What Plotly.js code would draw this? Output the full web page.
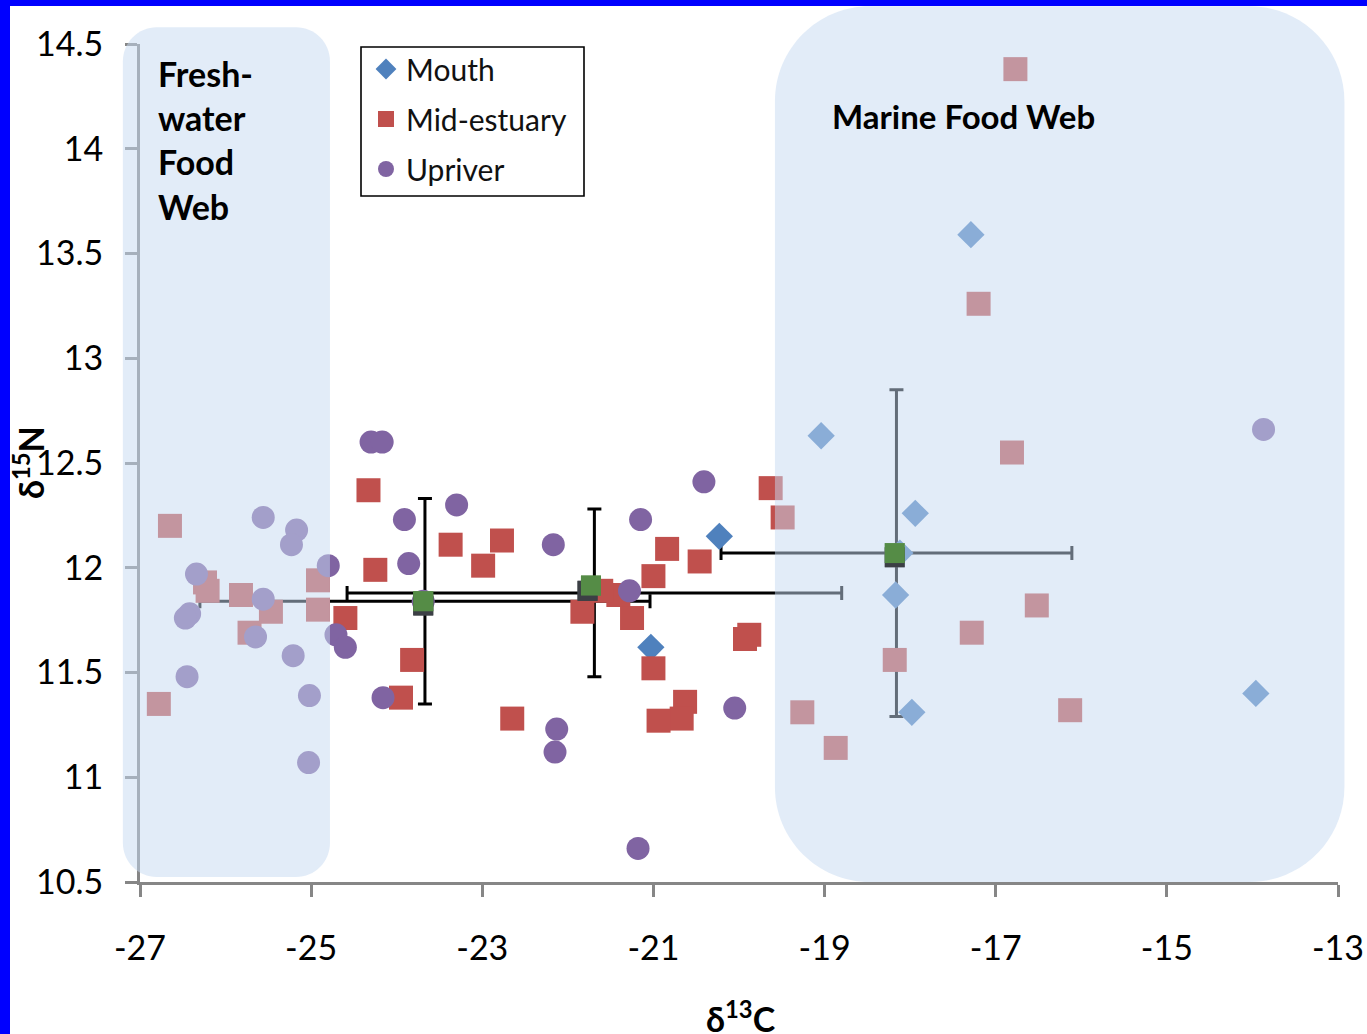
<!DOCTYPE html>
<html>
<head>
<meta charset="utf-8">
<script src="https://cdn.plot.ly/plotly-3.0.1.min.js"></script>
<style>
  html, body { margin: 0; padding: 0; background: #ffffff; }
  #wrap { position: relative; width: 1367px; height: 1034px; overflow: hidden; }
  #chart { position: absolute; left: 0; top: 0; width: 1367px; height: 1034px; }
  .edge { position: absolute; background: #0000ff; z-index: 5; }
</style>
</head>
<body>
<div id="wrap">
  <div id="chart"></div>
  <div class="edge" style="left:0;top:0;width:10px;height:1034px"></div>
  <div class="edge" style="left:0;top:0;width:1367px;height:6px"></div>
</div>
<script>
// Stable isotopes of fish sampled along the estuary: d13C (x) vs d15N (y)

// Mouth samples
const mouthX = [-20.23, -21.03, -19.04, -17.29, -17.94, -18.17, -17.98, -13.96, -18.12];
const mouthY = [12.15, 11.62, 12.63, 13.59, 12.26, 11.87, 11.31, 11.40, 12.07];

// Mid-estuary samples
const midX = [-26.65, -26.78, -26.24, -26.21, -25.82, -25.47, -25.72, -24.92, -24.92, -24.60,
              -24.33, -24.25, -23.37, -22.77, -22.99, -23.82, -23.95, -22.65, -21.83, -21.41,
              -21.61, -21.25, -21.00, -21.00, -20.84, -20.46, -19.88, -19.93, -20.63, -20.67,
              -20.94, -19.63, -19.49, -19.26, -18.87, -16.81, -16.52, -17.28, -18.18, -16.13,
              -16.77, -17.20];
const midY = [12.20, 11.35, 11.93, 11.89, 11.87, 11.79, 11.69, 11.94, 11.80, 11.76,
              12.37, 11.99, 12.11, 12.13, 12.01, 11.56, 11.38, 11.28, 11.79, 11.87,
              11.89, 11.76, 11.96, 11.52, 12.09, 12.03, 11.68, 11.66, 11.36, 11.28,
              11.27, 12.38, 12.24, 11.31, 11.14, 12.55, 11.82, 11.69, 11.56, 11.32,
              14.38, 13.26];

// Upriver samples
const upX = [-25.56, -25.17, -25.23, -26.34, -26.42, -26.47, -25.56, -25.65, -25.21, -26.45,
             -25.02, -25.03, -24.80, -24.71, -24.60, -24.30, -24.17, -23.91, -23.86, -23.30,
             -24.16, -23.69, -22.17, -22.13, -22.15, -21.28, -21.15, -20.41, -20.05, -21.18,
             -13.87];
const upY = [12.24, 12.18, 12.11, 11.97, 11.78, 11.76, 11.85, 11.67, 11.58, 11.48,
             11.39, 11.07, 12.01, 11.68, 11.62, 12.60, 12.60, 12.23, 12.02, 12.30,
             11.38, 11.84, 12.11, 11.23, 11.12, 11.89, 12.23, 12.41, 11.33, 10.66,
             12.66];

// Site means (upriver, mid-estuary, mouth) with +/- 1 SD
const sdCenterX = [-23.67, -21.69, -18.16];
const sdCenterY = [11.84, 11.88, 12.07];
const sdX = [2.63, 2.89, 2.05];
const sdY = [0.49, 0.40, 0.78];
const meanShadowX = [-23.69, -21.77, -18.18];
const meanShadowY = [11.82, 11.89, 12.05];
const meanX = [-23.69, -21.73, -18.18];
const meanY = [11.84, 11.915, 12.07];

// Axis ticks
const xTickVals = [-27, -25, -23, -21, -19, -17, -15, -13];
const xTickText = ['-27', '-25', '-23', '-21', '-19', '-17', '-15', '-13'];
const yTickVals = [10.5, 11, 11.5, 12, 12.5, 13, 13.5, 14, 14.5];
const yTickText = ['10.5', '11', '11.5', '12', '12.5', '13', '13.5', '14', '14.5'];

const X_RANGE = [-27, -13];
const Y_RANGE = [10.5, 14.5];
const W = 1367, H = 1034;
const M = { l: 140, r: 29, t: 44, b: 152 };
const plotW = W - M.l - M.r, plotH = H - M.t - M.b;
const FONT = 'Lato, "Open Sans", "DejaVu Sans", sans-serif';
const MEAN_GREEN = '#558c46';
const MEAN_SHADOW = '#3c3f45';

function paperX(v) { return (v - X_RANGE[0]) / (X_RANGE[1] - X_RANGE[0]); }
function paperY(v) { return (v - Y_RANGE[0]) / (Y_RANGE[1] - Y_RANGE[0]); }
// page pixel -> paper fraction
function pxX(p) { return (p - M.l) / plotW; }
function pxY(p) { return 1 - (p - M.t) / plotH; }
function f(n) { return n.toFixed(5); }

// Rounded rectangle in paper space; bounds in data units, corner radius in px
function roundedBox(x0, x1, y0, y1, r) {
  const X0 = paperX(x0), X1 = paperX(x1), Y0 = paperY(y0), Y1 = paperY(y1);
  const rx = r / plotW, ry = r / plotH, k = 0.4477;
  return 'M' + f(X0 + rx) + ',' + f(Y0) +
    ' L' + f(X1 - rx) + ',' + f(Y0) +
    ' C' + f(X1 - rx * k) + ',' + f(Y0) + ' ' + f(X1) + ',' + f(Y0 + ry * k) + ' ' + f(X1) + ',' + f(Y0 + ry) +
    ' L' + f(X1) + ',' + f(Y1 - ry) +
    ' C' + f(X1) + ',' + f(Y1 - ry * k) + ' ' + f(X1 - rx * k) + ',' + f(Y1) + ' ' + f(X1 - rx) + ',' + f(Y1) +
    ' L' + f(X0 + rx) + ',' + f(Y1) +
    ' C' + f(X0 + rx * k) + ',' + f(Y1) + ' ' + f(X0) + ',' + f(Y1 - ry * k) + ' ' + f(X0) + ',' + f(Y1 - ry) +
    ' L' + f(X0) + ',' + f(Y0 + ry) +
    ' C' + f(X0) + ',' + f(Y0 + ry * k) + ' ' + f(X0 + rx * k) + ',' + f(Y0) + ' ' + f(X0 + rx) + ',' + f(Y0) + ' Z';
}

// Square marker anchored at a data point, sized in px, drawn above the shaded zones
function squareAt(x, y, size, color) {
  const h = size / 2;
  return {
    type: 'rect', xref: 'x', yref: 'y', layer: 'above',
    xsizemode: 'pixel', ysizemode: 'pixel', xanchor: x, yanchor: y,
    x0: -h, x1: h, y0: -h, y1: h,
    fillcolor: color, line: { width: 0 }
  };
}

const traces = [
  {
    x: sdCenterX, y: sdCenterY, type: 'scatter', mode: 'markers', showlegend: false, hoverinfo: 'skip',
    marker: { color: 'rgba(0,0,0,0)', size: 2 },
    error_x: { type: 'data', array: sdX, visible: true, color: '#000000', thickness: 3, width: 7 },
    error_y: { type: 'data', array: sdY, visible: true, color: '#000000', thickness: 3, width: 7 }
  },
  {
    name: 'Mouth', legendgroup: 'mouth', x: mouthX, y: mouthY, type: 'scatter', mode: 'markers',
    marker: { symbol: 'diamond', size: 21, color: '#4f81bd', line: { width: 0 } }
  },
  {
    name: 'Mid-estuary', legendgroup: 'mid', x: midX, y: midY, type: 'scatter', mode: 'markers',
    marker: { symbol: 'square', size: 24, color: '#c0504d', line: { width: 0 } }
  },
  {
    name: 'Upriver', legendgroup: 'up', x: upX, y: upY, type: 'scatter', mode: 'markers',
    marker: { symbol: 'circle', size: 23, color: '#8064a2', line: { width: 0 } }
  },
  {
    x: meanShadowX, y: meanShadowY, type: 'scatter', mode: 'markers', showlegend: false, hoverinfo: 'skip',
    marker: { symbol: 'square', size: 20, color: MEAN_SHADOW, line: { width: 0 } }
  },
  {
    x: meanX, y: meanY, type: 'scatter', mode: 'markers', showlegend: false,
    marker: { symbol: 'square', size: 20, color: MEAN_GREEN, line: { width: 0 } }
  }
];

const shadeFill = 'rgba(198,217,241,0.5)';

const shapes = [
  { type: 'path', xref: 'paper', yref: 'paper', layer: 'above',
    path: roundedBox(-27.20, -24.78, 10.524, 14.58, 34), fillcolor: shadeFill, line: { width: 0 } },
  { type: 'path', xref: 'paper', yref: 'paper', layer: 'above',
    path: roundedBox(-19.58, -12.925, 10.5, 14.68, 95), fillcolor: shadeFill, line: { width: 0 } },
  // frame around the legend
  { type: 'rect', xref: 'paper', yref: 'paper', layer: 'above',
    x0: pxX(361), x1: pxX(584), y0: pxY(196), y1: pxY(47),
    fillcolor: '#ffffff', line: { color: '#000000', width: 1.6 } }
];
// the site means stay vivid on top of the shaded zones
meanShadowX.forEach((x, i) => shapes.push(squareAt(x, meanShadowY[i], 20, MEAN_SHADOW)));
meanX.forEach((x, i) => shapes.push(squareAt(x, meanY[i], 20, MEAN_GREEN)));

const layout = {
  width: W, height: H,
  margin: M,
  paper_bgcolor: '#ffffff', plot_bgcolor: '#ffffff',
  font: { family: FONT, color: '#000000' },
  showlegend: true,
  xaxis: {
    range: X_RANGE, tickmode: 'array', tickvals: xTickVals, ticktext: xTickText,
    showgrid: false, zeroline: false, showline: true, linecolor: '#868686', linewidth: 3,
    ticks: 'outside', ticklen: 12, tickwidth: 3, tickcolor: '#868686',
    tickfont: { family: FONT, size: 34, color: '#000000' }, ticklabelstandoff: 22, fixedrange: true
  },
  yaxis: {
    range: Y_RANGE, tickmode: 'array', tickvals: yTickVals, ticktext: yTickText,
    showgrid: false, zeroline: false, showline: true, linecolor: '#868686', linewidth: 3,
    ticks: 'outside', ticklen: 12, tickwidth: 3, tickcolor: '#868686',
    tickfont: { family: FONT, size: 34, color: '#000000' }, ticklabelstandoff: 15, fixedrange: true
  },
  legend: {
    x: pxX(366), y: pxY(43), xanchor: 'left', yanchor: 'top',
    bgcolor: 'rgba(0,0,0,0)', borderwidth: 0,
    font: { family: FONT, size: 30, color: '#111111' }, tracegroupgap: 8
  },
  shapes: shapes,
  annotations: [
    { xref: 'paper', yref: 'paper', x: pxX(157), y: pxY(52),
      xanchor: 'left', yanchor: 'top', align: 'left', showarrow: false, borderpad: 0,
      text: 'Fresh-<br>water<br>Food<br>Web', font: { family: FONT, size: 34, color: '#000000', weight: 'bold' } },
    { xref: 'paper', yref: 'paper', x: paperX(-17.38), y: pxY(116),
      xanchor: 'center', yanchor: 'middle', showarrow: false,
      text: 'Marine Food Web', font: { family: FONT, size: 33, color: '#000000', weight: 'bold' } },
    { xref: 'paper', yref: 'paper', x: pxX(29), y: 0.5,
      xanchor: 'center', yanchor: 'middle', showarrow: false, textangle: -90,
      text: 'δ<sup>15</sup>N', font: { family: FONT, size: 34, color: '#000000', weight: 'bold' } },
    { xref: 'paper', yref: 'paper', x: paperX(-19.98), y: pxY(993),
      xanchor: 'center', yanchor: 'top', showarrow: false,
      text: 'δ<sup>13</sup>C', font: { family: FONT, size: 34, color: '#000000', weight: 'bold' } }
  ]
};

Plotly.newPlot('chart', traces, layout, { displayModeBar: false, staticPlot: true });
</script>
</body>
</html>
